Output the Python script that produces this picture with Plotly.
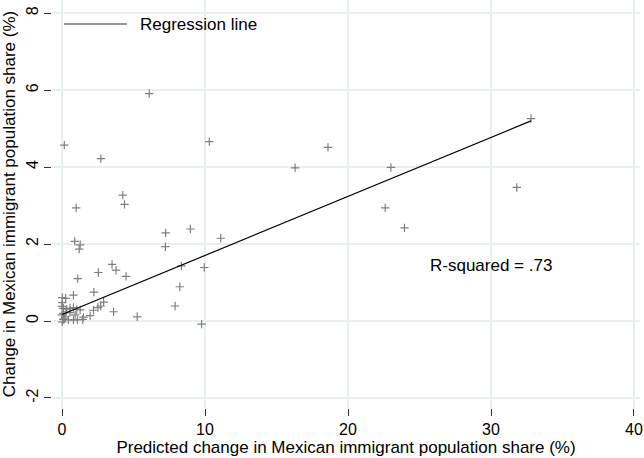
import plotly.graph_objects as go

# Scatter data: predicted change (x) vs actual change (y), in %
pred_change = [0.16, 6.1, 2.72, 10.3, 0.99, 4.25, 4.37, 7.25, 8.98, 11.1,
               7.23, 0.89, 1.27, 1.2, 9.95, 9.76, 3.5, 3.78, 4.48, 8.35,
               8.24, 7.91, 3.61, 5.26, 2.54, 1.1, 0.8, 2.23, 0.02, 0.26,
               0.02, 2.91, 2.7, 2.51, 2.2, 1.97, 32.8, 23.0, 31.8, 22.6,
               23.95, 18.6, 16.3, 0.09, 0.33, 0.56, 0.8, 1.03, 1.27, 0.28,
               0.56, 0.92, 0.0, 0.09, 0.21, 0.8, 1.08, 1.45, 1.5, 0.45,
               0.09, 0.02, 0.0, 0.15]
actual_change = [4.57, 5.91, 4.22, 4.66, 2.94, 3.27, 3.03, 2.29, 2.39, 2.15,
                 1.93, 2.07, 1.98, 1.87, 1.39, -0.08, 1.47, 1.32, 1.16, 1.43,
                 0.89, 0.39, 0.24, 0.11, 1.26, 1.10, 0.67, 0.75, 0.61, 0.59,
                 0.48, 0.49, 0.39, 0.35, 0.28, 0.14, 5.26, 3.99, 3.47, 2.94,
                 2.42, 4.51, 3.98, 0.33, 0.31, 0.33, 0.35, 0.30, 0.29, 0.24,
                 0.22, 0.16, 0.16, 0.20, 0.11, 0.03, 0.03, 0.04, 0.10, 0.03,
                 0.04, -0.02, 0.38, 0.05]

# Regression line endpoints
line_x = [0.0, 32.8]
line_y = [0.17, 5.2]

x_ticks = [0, 10, 20, 30, 40]
y_ticks = [-2, 0, 2, 4, 6, 8]

FONT = "Liberation Sans, Arial, Helvetica, sans-serif"
GRID = "#e7eff1"

fig = go.Figure()
fig.add_trace(go.Scatter(
    x=pred_change, y=actual_change, mode="markers",
    marker=dict(symbol="cross-thin", size=6,
                line=dict(color="#7f7f7f", width=1.2)),
    showlegend=False, hoverinfo="x+y"))
fig.add_trace(go.Scatter(
    x=line_x, y=line_y, mode="lines",
    line=dict(color="#000000", width=1.2),
    name="Regression line", showlegend=False))

# Legend key (drawn as a line + label)
fig.add_shape(type="line", xref="paper", yref="paper",
              x0=(64 - 52) / 588, x1=(127 - 52) / 588,
              y0=1 - 24 / 408, y1=1 - 24 / 408,
              line=dict(color="#333333", width=1.2))
fig.add_annotation(text="Regression line", xref="paper", yref="paper",
                   x=(138 - 52) / 588, y=1 - 24 / 408,
                   xanchor="left", yanchor="middle", showarrow=False,
                   font=dict(family=FONT, size=17, color="#000000"))

fig.add_annotation(text="R-squared = .73", x=30.0, y=1.43,
                   xanchor="center", yanchor="middle", showarrow=False,
                   font=dict(family=FONT, size=17, color="#000000"))

fig.update_layout(
    width=644, height=458,
    margin=dict(l=52, r=4, t=0, b=50),
    paper_bgcolor="white", plot_bgcolor="white",
    font=dict(family=FONT, size=16, color="#000000"),
    xaxis=dict(range=[-0.7, 40.42], tickvals=x_ticks,
               ticktext=[str(v) for v in x_ticks],
               showgrid=True, gridcolor=GRID, gridwidth=1.5,
               zeroline=False, showline=False,
               ticks="outside", ticklen=7, tickwidth=1, tickcolor="#333333",
               tickfont=dict(size=16),
               title=dict(text="Predicted change in Mexican immigrant population share (%)",
                          font=dict(size=17), standoff=2)),
    yaxis=dict(range=[-2.26, 8.34], tickvals=y_ticks,
               ticktext=[str(v) for v in y_ticks],
               showgrid=True, gridcolor=GRID, gridwidth=1.5,
               zeroline=False, showline=False, tickangle=-90,
               ticks="outside", ticklen=7, tickwidth=1, tickcolor="#333333",
               tickfont=dict(size=16),
               title=dict(text="Change in Mexican immigrant population share (%)",
                          font=dict(size=17), standoff=3)),
)

fig.write_html("out.html",
               config={"displayModeBar": False},
               post_script="document.body.style.margin='0px';document.body.style.overflow='hidden';")
